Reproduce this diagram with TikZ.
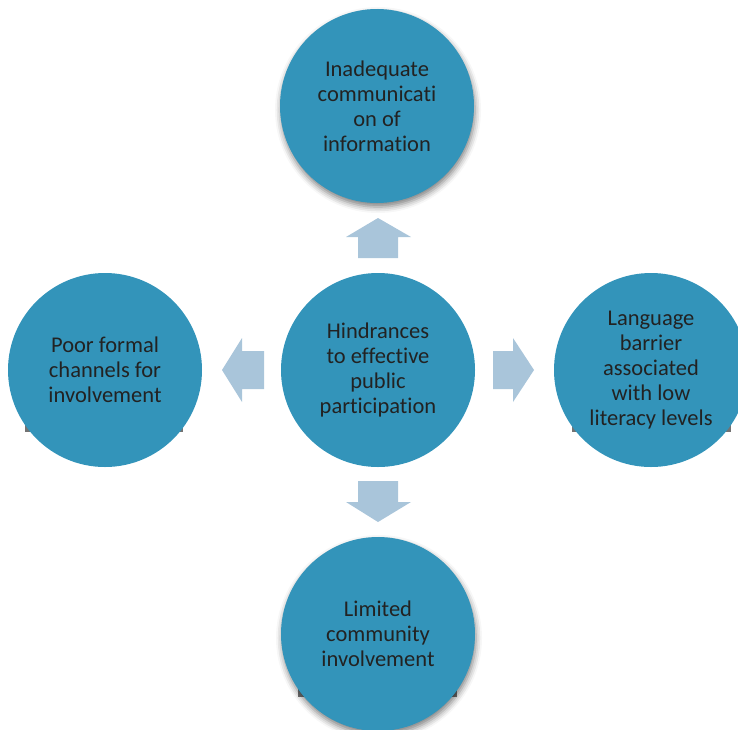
\documentclass[tikz,border=0pt]{standalone}
\usepackage{fontspec}
\setmainfont[Ligatures=NoCommon]{Carlito}
\usetikzlibrary{shadows.blur}
\definecolor{circ}{RGB}{51,148,186}
\definecolor{arr}{RGB}{169,197,218}
\definecolor{txt}{RGB}{34,34,34}
\tikzset{
  bubble/.style={circle, fill=circ, minimum size=194pt, inner sep=0pt, text=txt, align=center,
    font=\fontsize{22.5}{25}\selectfont},
  softshadow/.style={blur shadow={shadow xshift=1pt, shadow yshift=-4pt, shadow blur radius=6pt, shadow opacity=50}},
  blockarrow/.style={fill=arr, draw=none},
  boxshadow/.style={fill=black!55, draw=none}
}
\begin{document}
\begin{tikzpicture}[x=1pt, y=-1pt]
\useasboundingbox (0,0) rectangle (738,729);
\clip (0,0) rectangle (738,729);
% rectangle shadows behind circles
\fill[boxshadow] (25,421) rectangle (183,432);
\fill[boxshadow] (572,421) rectangle (731,432);
\fill[boxshadow] (298,686) rectangle (457,697);
% circles
\node[bubble, softshadow] (top) at (377,106) {Inadequate\\communicati\\on of\\information};
\node[bubble] (ctr) at (378,370) {Hindrances\\to effective\\public\\participation};
\node[bubble] (left) at (105,370) {Poor formal\\channels for\\involvement};
\node[bubble] (right) at (651,370) {Language\\barrier\\associated\\with low\\literacy levels};
\node[bubble, softshadow] (bot) at (378,634) {Limited\\community\\involvement};
% block arrows
\fill[blockarrow] (358,258) -- (358,237) -- (346,237) -- (378,218) -- (411,237) -- (398,237) -- (398,258) -- cycle;
\fill[blockarrow] (358,481) -- (358,502) -- (346,502) -- (378,522) -- (411,502) -- (398,502) -- (398,481) -- cycle;
\fill[blockarrow] (264,351) -- (242,351) -- (242,338) -- (222,370) -- (242,402) -- (242,389) -- (264,389) -- cycle;
\fill[blockarrow] (493,351) -- (513,351) -- (513,338) -- (534,370) -- (513,402) -- (513,389) -- (493,389) -- cycle;
\end{tikzpicture}
\end{document}
